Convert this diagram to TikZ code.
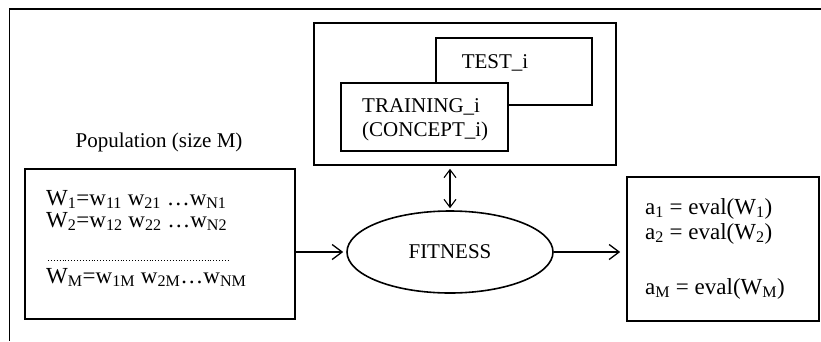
\documentclass[tikz,border=0pt]{standalone}
\usepackage{fontspec}
\setmainfont{Liberation Serif}
\usetikzlibrary{arrows.meta,shapes.geometric}
\begin{document}
\begin{tikzpicture}[x=1pt,y=-1pt,
  box/.style={draw,line width=1.6pt,rectangle,inner sep=0pt},
  lbl/.style={inner sep=0pt,font=\fontsize{21}{23}\selectfont},
  big/.style={inner sep=0pt,anchor=base west,font=\fontsize{23}{25}\selectfont},
  arr/.style={line width=1.3pt,-{Straight Barb[length=10pt,width=15pt,line width=1.3pt]}},
  darr/.style={line width=1.1pt,{Straight Barb[length=8pt,width=12pt,line width=1.1pt]}-{Straight Barb[length=8pt,width=12pt,line width=1.1pt]}},
]
\useasboundingbox (0,0) rectangle (821,341);
% outer frame (cut off at right and bottom)
\coordinate (fTR) at (821,9);
\coordinate (fTL) at (9.5,9);
\coordinate (fBL) at (9.5,341);
\draw[line width=1.8pt] (fTR) -- (fTL) -- (fBL);

% top group
\node[box, minimum width=302pt, minimum height=142pt] (outer) at (465,94) {};
\node[box, minimum width=156pt, minimum height=67pt] (test) at (514,71.5) {};
\node[box, fill=white, minimum width=167pt, minimum height=68pt] (train) at (424.5,117) {};
\node[lbl] (testl) at (495,63) {TEST\_i};
\node[lbl,anchor=base west] (trl) at (362,112) {TRAINING\_i};
\node[lbl,anchor=base west] (conl) at (362,136) {(CONCEPT\_i)};

% population
\node[lbl] (pop) at (159,142) {Population (size M)};
\node[box, minimum width=270pt, minimum height=150pt] (popbox) at (160,244) {};
\node[big] (w1) at (46,205) {W\textsubscript{1}=w\textsubscript{11} w\textsubscript{21} …w\textsubscript{N1}};
\node[big] (w2) at (46,227) {W\textsubscript{2}=w\textsubscript{12} w\textsubscript{22} …w\textsubscript{N2}};
\coordinate (dl) at (48,260);
\coordinate (dr) at (229,260);
\draw[line width=0.7pt, dash pattern=on 0.7pt off 2.2pt] (dl) -- (dr);
\node[big] (wm) at (46,283) {W\textsubscript{M}=w\textsubscript{1M} w\textsubscript{2M}…w\textsubscript{NM}};

% fitness
\node[draw, ellipse, line width=1.6pt, minimum width=206pt, minimum height=82pt, inner sep=0pt,
      font=\fontsize{21}{23}\selectfont] (fit) at (450,252) {FITNESS};

% results
\node[box, minimum width=192pt, minimum height=144pt] (res) at (723,249) {};
\node[big] (a1) at (645,214) {a\textsubscript{1} = eval(W\textsubscript{1})};
\node[big] (a2) at (645,239) {a\textsubscript{2} = eval(W\textsubscript{2})};
\node[big] (am) at (645,294) {a\textsubscript{M} = eval(W\textsubscript{M})};

% connectors
\draw[arr, shorten >=3pt] (popbox.east |- fit.west) -- (fit.west);
\draw[arr, shorten >=6pt] (fit.east) -- (res.west |- fit.east);
\draw[darr, shorten <=3pt, shorten >=2pt] (outer.south -| fit.north) -- (fit.north);
\end{tikzpicture}
\end{document}
